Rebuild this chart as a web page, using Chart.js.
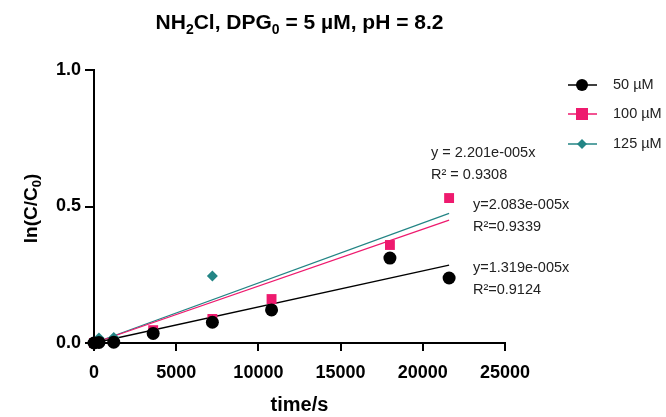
<!DOCTYPE html>
<html>
<head>
<meta charset="utf-8">
<script src="https://cdn.jsdelivr.net/npm/chart.js@4"></script>
<style>
  html, body { margin: 0; padding: 0; background: #fff; }
  #wrap { width: 666px; height: 417px; }
</style>
</head>
<body>
<div id="wrap"><canvas id="kineticsChart" width="666" height="417"></canvas></div>
<script>
// Data
const time50 = [0, 300, 1200, 3600, 7200, 10800, 18000, 21600];
const ln50 = [0, 0.002, 0.003, 0.035, 0.076, 0.121, 0.311, 0.238];
const time100 = [0, 3600, 7200, 10800, 18000, 21600];
const ln100 = [0, 0.047, 0.088, 0.161, 0.359, 0.531];
const time125 = [300, 1200, 7200];
const ln125 = [0.018, 0.02, 0.245];

// Linear fits (through origin), endpoints
const fitTime = [0, 21600];
const fit50 = [0, 0.285];
const fit100 = [0, 0.45];
const fit125 = [0, 0.475];

const seriesLabels = ['50 µM', '100 µM', '125 µM'];
const seriesColors = ['#000000', '#ee1a6e', '#238585'];
const xTicks = [0, 5000, 10000, 15000, 20000, 25000];
const yTicks = [0, 0.5, 1.0];

// Equation labels: [text lines, anchor x (data), anchor y (data)]
const fitNotes = [
    { lines: ['y = 2.201e-005x', 'R² = 0.9308'], x: 20500, y: 0.695 },
    { lines: ['y=2.083e-005x', 'R²=0.9339'], x: 23050, y: 0.505 },
    { lines: ['y=1.319e-005x', 'R²=0.9124'], x: 23050, y: 0.275 }
];

const toPoints = (xs, ys) => xs.map((x, i) => ({ x: x, y: ys[i] }));

const FONT = '"Liberation Sans", Arial, sans-serif';

const decorPlugin = {
    id: 'decor',
    afterDraw(chart) {
        const c = chart.ctx;
        const area = chart.chartArea;
        const sx = chart.scales.x;
        const sy = chart.scales.y;
        c.save();
        c.fillStyle = '#000';

        // Title with subscripts
        const big = 'bold 21px ' + FONT;
        const small = 'bold 14px ' + FONT;
        const parts = [
            ['NH', big, 0], ['2', small, 5], ['Cl, DPG', big, 0], ['0', small, 5],
            [' = 5 µM, pH = 8.2', big, 0]
        ];
        let total = 0;
        parts.forEach(p => { c.font = p[1]; total += c.measureText(p[0]).width; });
        let tx = (area.left + area.right) / 2 - total / 2;
        c.textBaseline = 'alphabetic';
        c.textAlign = 'left';
        parts.forEach(p => {
            c.font = p[1];
            c.fillText(p[0], tx, 29 + p[2]);
            tx += c.measureText(p[0]).width;
        });

        // Y axis title ln(C/C0)
        c.save();
        c.translate(37, (area.top + area.bottom) / 2 + 2);
        c.rotate(-Math.PI / 2);
        const yParts = [['ln(C/C', 'bold 19px ' + FONT, 0], ['0', 'bold 13px ' + FONT, 4], [')', 'bold 19px ' + FONT, 0]];
        let yw = 0;
        yParts.forEach(p => { c.font = p[1]; yw += c.measureText(p[0]).width; });
        let yx = -yw / 2;
        yParts.forEach(p => {
            c.font = p[1];
            c.fillText(p[0], yx, p[2]);
            yx += c.measureText(p[0]).width;
        });
        c.restore();

        // X axis title
        c.font = 'bold 20px ' + FONT;
        c.textAlign = 'center';
        c.fillText('time/s', (area.left + area.right) / 2, 411);

        // Fit equations
        c.font = '14.5px ' + FONT;
        c.fillStyle = '#222';
        c.textAlign = 'left';
        c.textBaseline = 'middle';
        fitNotes.forEach(n => {
            const px = sx.getPixelForValue(n.x);
            const py = sy.getPixelForValue(n.y);
            n.lines.forEach((t, i) => c.fillText(t, px, py + i * 22));
        });

        // Legend
        const rows = [85, 114, 144];
        chart.data.datasets.slice(0, 3).forEach((ds, i) => {
            const y = rows[i];
            c.strokeStyle = ds.borderColor;
            c.lineWidth = 1.5;
            c.beginPath();
            c.moveTo(568, y);
            c.lineTo(597, y);
            c.stroke();
            c.fillStyle = ds.backgroundColor;
            c.beginPath();
            if (ds.pointStyle === 'circle') {
                c.arc(582, y, 6, 0, Math.PI * 2);
            } else if (ds.pointStyle === 'rect') {
                c.rect(576, y - 6, 12, 12);
            } else {
                c.moveTo(582, y - 5); c.lineTo(587, y); c.lineTo(582, y + 5); c.lineTo(577, y);
                c.closePath();
            }
            c.fill();
            c.fillStyle = '#222';
            c.font = '14.5px ' + FONT;
            c.fillText(ds.label, 613, y);
        });
        c.restore();
    }
};

const scatterSet = (label, xs, ys, color, style, radius) => ({
    label: label,
    data: toPoints(xs, ys),
    showLine: false,
    pointStyle: style,
    pointRadius: radius,
    pointHoverRadius: radius,
    backgroundColor: color,
    borderColor: color,
    borderWidth: 0,
    clip: false
});

const fitSet = (xs, ys, color) => ({
    label: '',
    data: toPoints(xs, ys),
    showLine: true,
    pointRadius: 0,
    borderColor: color,
    borderWidth: 1.3,
    fill: false,
    clip: false
});

new Chart(document.getElementById('kineticsChart'), {
    type: 'scatter',
    data: {
        datasets: [
            scatterSet(seriesLabels[0], time50, ln50, seriesColors[0], 'circle', 6.5),
            scatterSet(seriesLabels[1], time100, ln100, seriesColors[1], 'rect', 7),
            scatterSet(seriesLabels[2], time125, ln125, seriesColors[2], 'rectRot', 5.5),
            fitSet(fitTime, fit50, seriesColors[0]),
            fitSet(fitTime, fit100, seriesColors[1]),
            fitSet(fitTime, fit125, seriesColors[2])
        ]
    },
    options: {
        responsive: false,
        animation: false,
        layout: { padding: { top: 70, right: 161, left: 0, bottom: 0 } },
        plugins: {
            legend: { display: false },
            tooltip: { enabled: false }
        },
        scales: {
            x: {
                type: 'linear',
                min: 0,
                max: 25000,
                afterBuildTicks: (s) => { s.ticks = xTicks.map(v => ({ value: v })); },
                afterFit: (s) => { s.height = 74; },
                border: { color: '#000', width: 2 },
                grid: { drawOnChartArea: false, color: '#000', lineWidth: 2, tickLength: 8 },
                ticks: {
                    color: '#000',
                    padding: 11,
                    maxRotation: 0,
                    font: { family: FONT, size: 18, weight: 'bold' },
                    callback: (v) => String(v)
                }
            },
            y: {
                type: 'linear',
                min: 0,
                max: 1.0,
                afterBuildTicks: (s) => { s.ticks = yTicks.map(v => ({ value: v })); },
                afterFit: (s) => { s.width = 94; },
                border: { color: '#000', width: 2 },
                grid: { drawOnChartArea: false, color: '#000', lineWidth: 2, tickLength: 9 },
                ticks: {
                    color: '#000',
                    padding: 4,
                    font: { family: FONT, size: 18, weight: 'bold' },
                    callback: (v) => v.toFixed(1)
                }
            }
        }
    },
    plugins: [decorPlugin]
});
</script>
</body>
</html>
